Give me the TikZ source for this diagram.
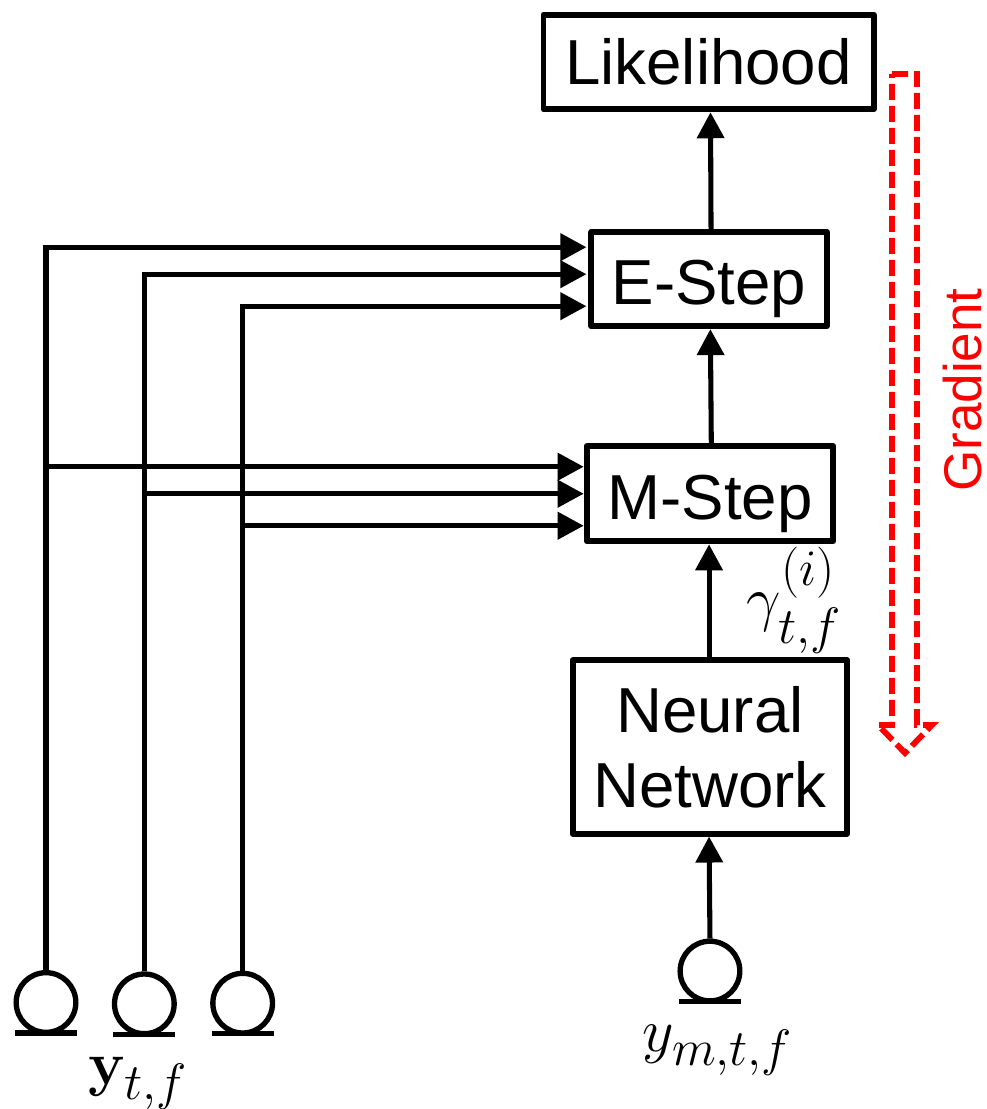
\documentclass[tikz,border=0pt]{standalone}
\usepackage[no-math]{fontspec}
\usepackage{amsmath}
\setmainfont{Liberation Sans}
\usetikzlibrary{positioning,arrows.meta,calc}
\definecolor{GradRed}{RGB}{255,0,0}

\begin{document}
\begin{tikzpicture}[
x=0.75pt,y=-0.75pt,
box/.style={rectangle,draw=black,line width=4.4pt,line join=round,align=center,font=\fontsize{47.7}{56}\selectfont},
stepbox/.style={box,text depth=0pt,text height=38pt},
mic/.style={circle,draw=black,line width=4pt,fill=white,minimum size=44.75pt,inner sep=0pt},
arrow/.style={-{Triangle[length=19.5pt,width=20pt]},line width=3.8pt,draw=black},
bar/.style={line width=4pt,draw=black},
gradarrow/.style={draw=GradRed,line width=4.4pt,dash pattern=on 12pt off 4.5pt,line join=miter},
lab/.style={inner sep=0pt,font=\Huge,scale=1.85}
]
\useasboundingbox (0,0) rectangle (986,1109);
% processing chain
\node[box,minimum width=247.6pt,minimum height=71pt] (like) at (708.5,62) {Likelihood};
\node[stepbox,below=87.75pt of like,minimum width=176.5pt,minimum height=70.5pt,xshift=0.4pt] (estep) {E-Step};
\node[stepbox,below=85.5pt of estep,minimum width=185pt,minimum height=71.5pt,xshift=0.7pt] (mstep) {M-Step};
\node[box,below=84.75pt of mstep,minimum width=206pt,minimum height=130pt] (nnet) {Neural\\Network};
\draw[arrow] ([xshift=1.5pt]estep.north)--([xshift=1.5pt]like.south);
\draw[arrow] ([xshift=1pt]mstep.north)--([xshift=1pt]estep.south);
\draw[arrow] ([xshift=-0.7pt]nnet.north)--([xshift=-0.7pt]mstep.south);
% microphones
\node[mic] (mica) at (46,1002.5) {};
\node[mic,right=25pt of mica,yshift=-1pt] (micb) {};
\node[mic,right=25pt of micb,yshift=0.5pt] (micc) {};
\node[mic,below=76.5pt of nnet] (micd) {};
\draw[arrow] (micd.north)--([xshift=-0.7pt]nnet.south);
\foreach \n in {mica,micb,micc,micd} \draw[bar] ($(\n.south)+(-31,-2)$)--($(\n.south)+(31,-2)$);
% multi channel inputs
\foreach \n/\dy in {mica/-32,micb/-5,micc/27} {
\coordinate (ein) at ($(estep.west)+(-2,\dy)$);
\draw[arrow] (\n.north) |- (ein);
}
\foreach \n/\dy in {mica/-27,micb/0,micc/32} {
\coordinate (min) at ($(mstep.west)+(0,\dy)$);
\draw[arrow] (\n.north |- min) -- (min);
}
% labels
\node[lab] (ylab) at ($(micb.south)+(-6,47)$) {$\mathbf{y}_{t,f}$};
\node[lab] (ymlab) at ($(micd.south)+(8,47)$) {$y_{m,t,f}$};
\node[lab] (gamlab) at ($(nnet.north east)+(-56,-57)$) {$\gamma_{t,f}^{(i)}$};
% gradient
\draw[gradarrow] (892,74) -- (917,74) -- (917,725) -- (932,725) -- (905,753) -- (878,725) -- (892,725) -- cycle;
\node[rotate=90,text=GradRed,font=\fontsize{39.8}{46}\selectfont,inner sep=0pt] (grad) at (963,390) {Gradient};
\end{tikzpicture}
\end{document}
